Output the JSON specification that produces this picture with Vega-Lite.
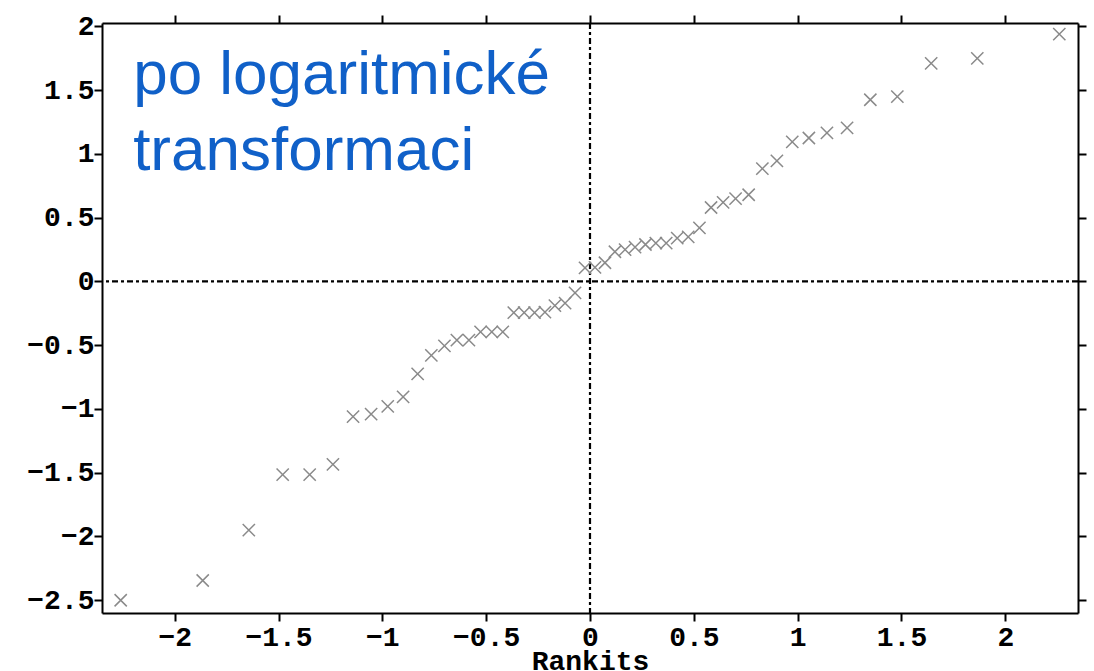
{
  "$schema": "https://vega.github.io/schema/vega-lite/v6.json",
  "autosize": {"type": "none"},
  "padding": {"left": 102, "top": 23, "right": 16, "bottom": 58},
  "width": 976,
  "height": 590,
  "background": "white",
  "config": {
    "view": {"stroke": null},
    "axis": {
      "domainColor": "black",
      "domainWidth": 2,
      "tickColor": "black",
      "tickWidth": 2,
      "tickSize": 8,
      "grid": false,
      "labelFont": "Liberation Mono",
      "labelFontWeight": "bold",
      "labelFontSize": 28,
      "labelColor": "black",
      "titleFont": "Liberation Mono",
      "titleFontWeight": "bold",
      "titleFontSize": 28,
      "titleColor": "black"
    }
  },
  "datasets": {
    "pts": [
      {"rankit": -2.26, "value": -2.5},
      {"rankit": -1.865, "value": -2.345},
      {"rankit": -1.643, "value": -1.95},
      {"rankit": -1.48, "value": -1.515},
      {"rankit": -1.35, "value": -1.515},
      {"rankit": -1.238, "value": -1.435},
      {"rankit": -1.141, "value": -1.06},
      {"rankit": -1.054, "value": -1.04},
      {"rankit": -0.974, "value": -0.98},
      {"rankit": -0.9, "value": -0.905},
      {"rankit": -0.83, "value": -0.725},
      {"rankit": -0.764, "value": -0.58},
      {"rankit": -0.701, "value": -0.505},
      {"rankit": -0.641, "value": -0.46},
      {"rankit": -0.583, "value": -0.46},
      {"rankit": -0.527, "value": -0.395},
      {"rankit": -0.473, "value": -0.395},
      {"rankit": -0.42, "value": -0.395},
      {"rankit": -0.367, "value": -0.245},
      {"rankit": -0.317, "value": -0.245},
      {"rankit": -0.267, "value": -0.245},
      {"rankit": -0.217, "value": -0.24},
      {"rankit": -0.169, "value": -0.19},
      {"rankit": -0.12, "value": -0.17},
      {"rankit": -0.072, "value": -0.09},
      {"rankit": -0.024, "value": 0.107},
      {"rankit": 0.024, "value": 0.11},
      {"rankit": 0.072, "value": 0.147},
      {"rankit": 0.12, "value": 0.233},
      {"rankit": 0.169, "value": 0.25},
      {"rankit": 0.217, "value": 0.27},
      {"rankit": 0.267, "value": 0.29},
      {"rankit": 0.317, "value": 0.3},
      {"rankit": 0.367, "value": 0.3},
      {"rankit": 0.42, "value": 0.34},
      {"rankit": 0.473, "value": 0.35},
      {"rankit": 0.527, "value": 0.42},
      {"rankit": 0.583, "value": 0.58},
      {"rankit": 0.641, "value": 0.62},
      {"rankit": 0.701, "value": 0.65},
      {"rankit": 0.764, "value": 0.68},
      {"rankit": 0.83, "value": 0.885},
      {"rankit": 0.9, "value": 0.945},
      {"rankit": 0.974, "value": 1.095},
      {"rankit": 1.054, "value": 1.125},
      {"rankit": 1.141, "value": 1.165},
      {"rankit": 1.238, "value": 1.205},
      {"rankit": 1.35, "value": 1.425},
      {"rankit": 1.48, "value": 1.45},
      {"rankit": 1.643, "value": 1.71},
      {"rankit": 1.865, "value": 1.75},
      {"rankit": 2.26, "value": 1.94}
    ],
    "note": [
      {"rankit": -2.2, "value": 1.47, "label": ["po logaritmické", "transformaci"]}
    ],
    "ref": [
      {"zero": 0}
    ]
  },
  "resolve": {"axis": {"x": "independent", "y": "independent"}},
  "layer": [
    {
      "data": {"name": "ref"},
      "mark": {"type": "rule", "stroke": "black", "strokeWidth": 2.2, "strokeDash": [6, 3, 3, 3]},
      "encoding": {
        "y": {"field": "zero", "type": "quantitative",
          "axis": {"orient": "right", "title": null, "labels": false, "values": [-2.5, -2, -1.5, -1, -0.5, 0, 0.5, 1, 1.5, 2]}}
      }
    },
    {
      "data": {"name": "ref"},
      "mark": {"type": "rule", "stroke": "black", "strokeWidth": 2.2, "strokeDash": [6, 3, 3, 3]},
      "encoding": {
        "x": {"field": "zero", "type": "quantitative",
          "axis": {"orient": "top", "title": null, "labels": false, "values": [-2, -1.5, -1, -0.5, 0, 0.5, 1, 1.5, 2]}}
      }
    },
    {
      "data": {"name": "pts"},
      "mark": {"type": "point", "shape": "M-1,-1L1,1M-1,1L1,-1", "filled": false, "stroke": "#8a8a8a", "strokeWidth": 1.5, "size": 150, "opacity": 1},
      "encoding": {
        "x": {"field": "rankit", "type": "quantitative",
          "scale": {"domain": [-2.35, 2.35], "nice": false, "zero": false},
          "axis": {"orient": "bottom", "title": "Rankits", "values": [-2, -1.5, -1, -0.5, 0, 0.5, 1, 1.5, 2], "format": "~g", "labelPadding": 2, "titlePadding": -4, "labelFlush": false, "labelOverlap": false}},
        "y": {"field": "value", "type": "quantitative",
          "scale": {"domain": [-2.6, 2.027], "nice": false, "zero": false},
          "axis": {"orient": "left", "title": null, "values": [-2.5, -2, -1.5, -1, -0.5, 0, 0.5, 1, 1.5, 2], "format": "~g", "labelPadding": 0, "labelFlush": false, "labelOverlap": false}}
      }
    },
    {
      "data": {"name": "note"},
      "mark": {"type": "text", "align": "left", "baseline": "alphabetic", "font": "Liberation Sans", "fontSize": 62, "lineHeight": 76, "color": "#1060C8"},
      "encoding": {
        "x": {"field": "rankit", "type": "quantitative", "axis": null},
        "y": {"field": "value", "type": "quantitative", "axis": null},
        "text": {"field": "label"}
      }
    }
  ]
}
